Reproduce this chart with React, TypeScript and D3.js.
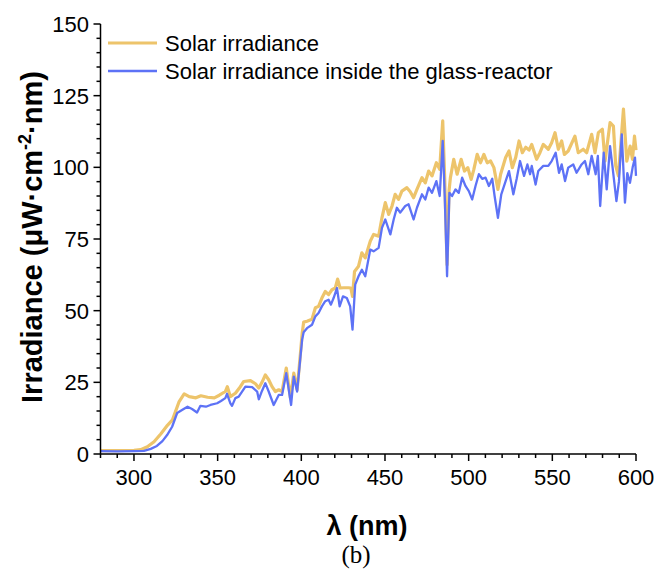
import React from "react";
import * as d3 from "d3";

const solarNm = [280,290,300,304,308,312,316,320,323,327,330,333,337,340,344,348,351,354.6,355.8,357.6,360.6,363,365.6,369.6,372.6,374.6,376.5,378.5,380.5,382.5,384.5,386.5,388.5,391,393.5,395.5,397.5,399.5,400.5,401.4,403.4,406.4,408.4,410.3,412.3,414.3,416.3,418.3,420.3,421.7,423.2,425.2,428.2,429.6,430.6,431.8,434.2,436.2,438.2,441.2,443.2,446.2,448.2,450.2,452.2,454.2,456.1,458.1,460.1,463.1,465.1,467.1,469.1,472.1,474.1,476.1,478.1,480.7,482.7,484.5,485.7,487.1,488.3,489.1,491.1,493.1,495.5,497.5,499.5,501.5,503.1,505.1,507.1,509.1,511.1,513.1,515.1,517.5,519.1,522.1,524.1,526.1,528.1,530.1,532.1,534.1,536.1,537.7,540.6,542.6,544.6,547.6,549.6,551.6,553.6,555.6,557.2,559.5,563.5,565.5,568.5,570.5,573.5,575.5,577.5,579.9,581.5,584.5,586.5,587.9,589.5,592.5,594.5,596.5,597.9,599.1,600];
const solarValues = [1.2,1.2,1.3,1.5,2.5,4.3,7,10,11.9,18.3,21,20,19.6,20.3,19.8,19.6,20.5,21.8,23.5,20,21.2,23,25.3,25.6,24.5,23,25,27.6,25.9,23.5,21.8,22.4,21.8,30,19.5,28.2,22.4,35.2,42,46,46.3,47,51,51.5,54.4,56.7,55.6,57.3,57.9,61,57.9,58,58,57.9,55,63.7,65.5,70.2,68.4,74.2,76.6,76,82.4,87.7,83.6,86.5,90.6,88.8,91.7,92.9,91.5,89.4,92.3,96.4,94.6,98.7,97,101.6,99.3,116.2,95.8,66,92,96.4,102.8,97.6,102.8,98.7,99.9,95.8,99.3,104.5,101.6,104.5,101.6,102.2,99.9,92.3,97.6,103.4,105.7,99.9,103.4,109.2,105.1,107,106,108,102.8,105.1,108,106.3,108.6,112.1,106.3,109.2,104.5,105.7,110.9,105.1,106.3,105.1,111.5,105.1,112.1,113.3,102.2,115.6,114.4,100.5,97,120.3,102.2,107.4,102.8,110.9,106];

const reactorNm = [280,290,300,306,310,313.7,317,319.8,322.8,325.8,329.7,332,334.7,337.7,339.7,343,345.7,349.7,352,354.6,355.6,357.6,358.6,360.6,362.6,366.6,370.6,373.6,374.6,376.5,378.5,380.5,383.5,386.5,388.5,391,393.9,395.5,397.5,399.5,400.5,401.4,403.4,406.4,408.4,410.3,412.3,414.3,416.3,417.7,419.3,421.3,422.9,424.9,427.2,429.2,430.6,432.2,434.2,436.2,438.2,441.2,443.2,446.2,448.2,450.2,453.2,455.2,457.1,459.1,462.1,464.1,465.1,467.1,469.1,472.1,474.1,476.1,478.1,480.7,482.7,484.5,485.7,487.1,488.5,490.1,492.1,494.1,496.1,498.1,500.1,502.1,504.1,506.1,508.1,510.1,512.1,514.1,515.5,517.5,519.5,522.1,524.1,526.7,528.7,530.7,533.1,535.1,536.7,537.7,540,541.6,544.6,547.6,549.6,552,554,555.6,557.6,559.5,562.5,564.5,567.5,569.5,571.5,573.5,575.9,577.2,578.6,580.7,582.5,584.5,585.9,588.3,589.8,591.5,593.4,594.8,596.4,598,599.4,600];
const reactorValues = [1,0.9,1,1.1,1.8,2.8,4.5,6.6,9.5,14.3,15.7,16.5,15.7,14.5,16.8,16.5,17.1,17.7,18.5,19.5,21,17.7,16.8,19.5,20,23.5,23.3,21.8,19.1,22,24.7,21.8,17.1,20.6,20.6,28.2,17.1,27,21.8,34,39.9,42.5,43.9,45.1,48,49.2,51.5,53.3,53.8,52.1,54.4,57.9,51.5,55,54.4,51.5,43.4,59.1,62,64.3,62,71.3,70.7,71.9,78.9,81.8,76.6,81.8,85.9,84.2,86.5,87.1,85.3,81.8,85.9,90.6,88.8,92.9,91.1,95.2,90,109.2,90,62,91.1,90,92.3,91.1,96.4,93.5,91.7,88.8,93.5,97.6,96,96.4,93.5,96,90,82.4,90.6,95.2,98.7,90.6,96,102.2,97,101,97.6,100.5,94,98.7,100.5,100.5,102.2,105.1,98.1,101,95.2,99.9,101,98.1,101,102.2,97.6,104,97.6,104,86.5,105.1,92.3,107.4,100.5,88.2,95,111.5,87.7,98,94.6,100,103.4,97];

const xTicks = [300, 350, 400, 450, 500, 550, 600];
const yTicks = [0, 25, 50, 75, 100, 125, 150];
const seriesNames = ["Solar irradiance", "Solar irradiance inside the glass-reactor"];
const seriesColors = ["#EDC46B", "#5D72F6"];

export default function App() {
  const W = 660, H = 569;
  const x = d3.scaleLinear().domain([280, 600]).range([100.5, 636]);
  const y = d3.scaleLinear().domain([0, 150]).range([454, 24]);
  const line = d3.line<[number, number]>().x(d => x(d[0])).y(d => y(d[1]));
  const solarPts = solarNm.map((n, i) => [n, solarValues[i]] as [number, number]);
  const reactorPts = reactorNm.map((n, i) => [n, reactorValues[i]] as [number, number]);
  const xMinor = d3.range(280, 601, 10);
  const yMinor = d3.range(0, 151, 5);
  const font = "Arial, 'Liberation Sans', sans-serif";
  return (
    <svg width={W} height={H} style={{ position: "absolute", left: 0, top: 0, background: "#fff" }} fontFamily={font}>
      <path d={line(solarPts) || ""} fill="none" stroke={seriesColors[0]} strokeWidth={3.2} strokeLinejoin="round" />
      <path d={line(reactorPts) || ""} fill="none" stroke={seriesColors[1]} strokeWidth={2.3} strokeLinejoin="round" />
      <line x1={x(280)} x2={x(600)} y1={y(0)} y2={y(0)} stroke="#000" strokeWidth={1.5} />
      <line x1={x(280)} x2={x(280)} y1={y(0)} y2={y(150)} stroke="#000" strokeWidth={1.5} />
      {xMinor.map(v => (
        <line key={"xm" + v} x1={x(v)} x2={x(v)} y1={y(0)} y2={y(0) + (v % 50 === 0 ? 7 : 4)} stroke="#000" strokeWidth={1.5} />
      ))}
      {yMinor.map(v => (
        <line key={"ym" + v} x1={x(280)} x2={x(280) - (v % 25 === 0 ? 7 : 4)} y1={y(v)} y2={y(v)} stroke="#000" strokeWidth={1.5} />
      ))}
      {xTicks.map(v => (
        <text key={"xt" + v} x={x(v)} y={485} textAnchor="middle" fontSize={22}>{v}</text>
      ))}
      {yTicks.map(v => (
        <text key={"yt" + v} x={89} y={y(v) + 8} textAnchor="end" fontSize={22}>{v}</text>
      ))}
      <text x={367} y={535} textAnchor="middle" fontSize={27} fontWeight="bold">λ (nm)</text>
      <text transform="translate(42,237) rotate(-90)" textAnchor="middle" fontSize={29} fontWeight="bold">
        Irradiance (μW·cm<tspan dy={-11} fontSize={18}>-2</tspan><tspan dy={11}>·nm)</tspan>
      </text>
      <text x={356} y={563} textAnchor="middle" fontSize={25} fontFamily="'Liberation Serif', 'Times New Roman', serif">(b)</text>
      {seriesNames.map((s, i) => (
        <g key={s}>
          <line x1={108} x2={157} y1={43 + i * 28} y2={43 + i * 28} stroke={seriesColors[i]} strokeWidth={i === 0 ? 3.2 : 2.3} />
          <text x={165} y={51 + i * 28} fontSize={22}>{s}</text>
        </g>
      ))}
    </svg>
  );
}
